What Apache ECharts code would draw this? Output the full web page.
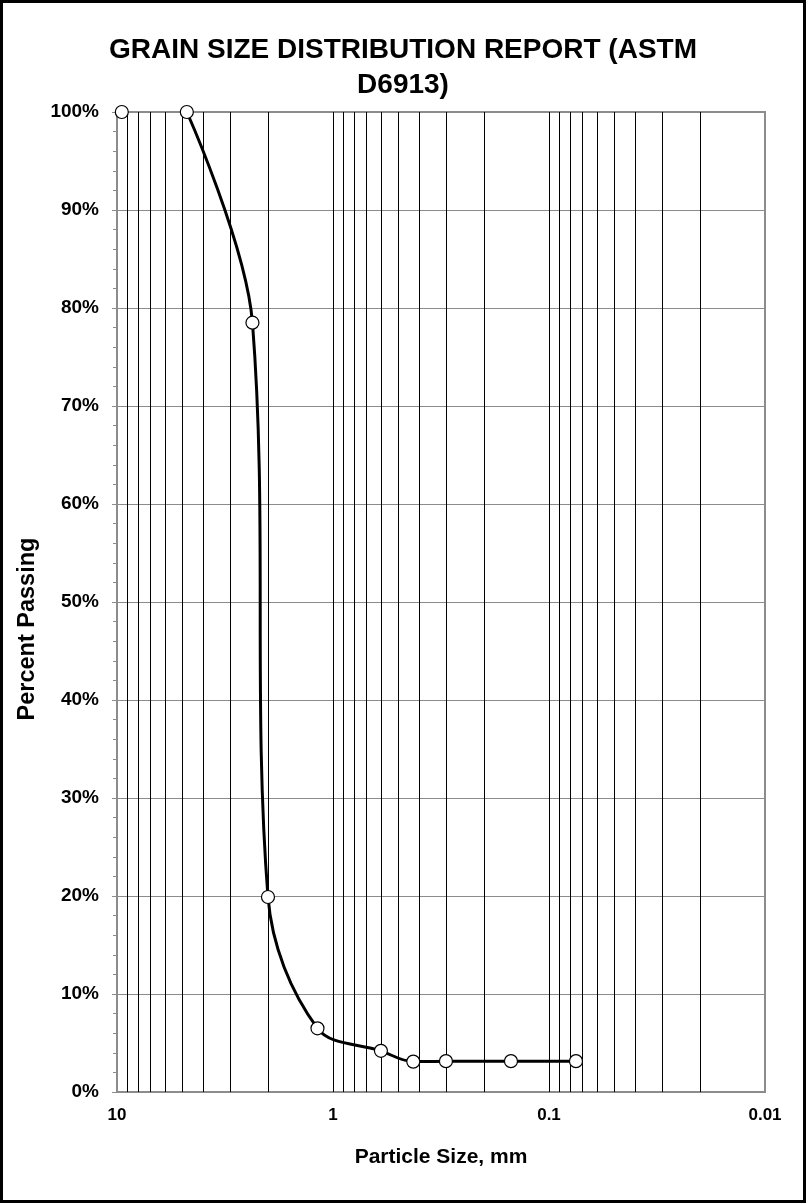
<!DOCTYPE html>
<html>
<head>
<meta charset="utf-8">
<script src="https://cdn.jsdelivr.net/npm/echarts@6/dist/echarts.min.js"></script>
<style>
html,body{margin:0;padding:0;background:#fff;}
#c{width:806px;height:1203px;}
</style>
</head>
<body>
<div id="c"></div>
<script>
// Sieve sizes (mm) and percent passing
const sizes = [9.5, 4.75, 2.36, 2.0, 1.18, 0.6, 0.425, 0.3, 0.15, 0.075];
const passing = [100, 100, 78.5, 19.9, 6.5, 4.2, 3.1, 3.15, 3.15, 3.15];
// Vertical log grid lines
const logGridValues = [9,8,7,6,5,4,3,2,1,0.9,0.8,0.7,0.6,0.5,0.4,0.3,0.2,0.1,0.09,0.08,0.07,0.06,0.05,0.04,0.03,0.02];
const xTickLabels = {'10':'10','1':'1','0.1':'0.1','0.01':'0.01'};

const points = sizes.map((s, i) => [s, passing[i]]);
const FONT = '"Liberation Sans", Arial, sans-serif';

const chart = echarts.init(document.getElementById('c'), null, {renderer: 'canvas'});
chart.setOption({
  animation: false,
  backgroundColor: '#fff',
  title: {
    text: 'GRAIN SIZE DISTRIBUTION REPORT (ASTM\nD6913)',
    left: 'center',
    top: 33,
    padding: 0,
    textStyle: {fontFamily: FONT, fontWeight: 'bold', fontSize: 28, lineHeight: 35, color: '#000'}
  },
  graphic: [{
    type: 'rect', silent: true, z: 100,
    shape: {x: 1.5, y: 1.5, width: 803, height: 1200},
    style: {fill: 'none', stroke: '#000', lineWidth: 3}
  }],
  grid: {
    left: 117, right: 41, top: 112, bottom: 111,
    show: true, borderColor: '#8c8c8c', borderWidth: 2, backgroundColor: 'transparent'
  },
  xAxis: {
    type: 'log', logBase: 10, min: 0.01, max: 10, inverse: true,
    name: 'Particle Size, mm', nameLocation: 'middle', nameGap: 55,
    nameTextStyle: {fontFamily: FONT, fontWeight: 'bold', fontSize: 21, color: '#000'},
    axisLine: {show: true, onZero: false, lineStyle: {color: '#8c8c8c', width: 2}},
    axisTick: {show: false},
    splitLine: {show: false},
    axisLabel: {
      margin: 15, fontFamily: FONT, fontWeight: 'bold', fontSize: 17, color: '#000',
      formatter: v => { const k = String(+(+v).toPrecision(3)); return xTickLabels[k] || k; }
    }
  },
  yAxis: {
    type: 'value', min: 0, max: 100, interval: 10,
    name: 'Percent Passing', nameLocation: 'middle', nameGap: 71, nameRotate: 90,
    nameTextStyle: {fontFamily: FONT, fontWeight: 'bold', fontSize: 23.5, color: '#000', padding: [0, 54, 0, 0]},
    axisLine: {show: true, lineStyle: {color: '#8c8c8c', width: 2}},
    axisTick: {show: true, inside: false, length: 5, lineStyle: {color: '#8c8c8c', width: 1}},
    minorTick: {show: true, splitNumber: 5, length: 4, lineStyle: {color: '#8c8c8c', width: 1}},
    splitLine: {show: true, lineStyle: {color: '#8c8c8c', width: 1}},
    axisLabel: {
      margin: 18, fontFamily: FONT, fontWeight: 'bold', fontSize: 19, color: '#000',
      formatter: '{value}%'
    }
  },
  series: [
    {
      type: 'line',
      data: points.slice(1),
      smooth: 0.35,
      showSymbol: false,
      lineStyle: {color: '#000', width: 3},
      z: 3,
      markLine: {
        silent: true, symbol: 'none', animation: false,
        label: {show: false},
        lineStyle: {color: '#000', width: 1, type: 'solid'},
        data: logGridValues.map(v => ({xAxis: v}))
      }
    },
    {
      type: 'scatter',
      data: points,
      symbol: 'circle',
      symbolSize: 13,
      itemStyle: {color: '#fff', borderColor: '#000', borderWidth: 1.2, opacity: 1},
      z: 5
    }
  ]
});
</script>
</body>
</html>
